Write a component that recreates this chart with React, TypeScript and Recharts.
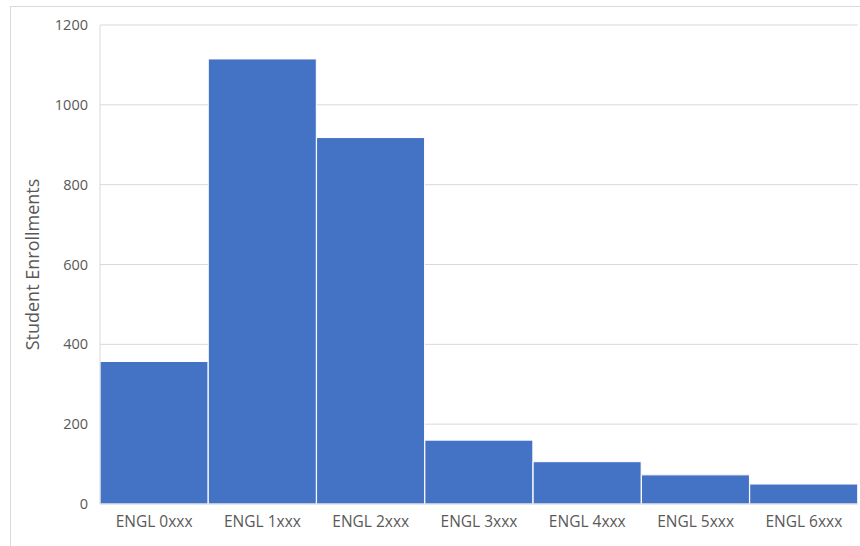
import { BarChart, Bar, XAxis, YAxis, CartesianGrid } from "recharts";

const categories = ["ENGL 0xxx", "ENGL 1xxx", "ENGL 2xxx", "ENGL 3xxx", "ENGL 4xxx", "ENGL 5xxx", "ENGL 6xxx"];
const enrollments = [357, 1115, 918, 160, 106, 73, 50];
const yTicks = [0, 200, 400, 600, 800, 1000, 1200];

const data = categories.map((c, i) => ({ name: c, value: enrollments[i] }));

const font = "'Open Sans', sans-serif";

export default function App() {
  return (
    <div style={{ position: "absolute", left: 0, top: 0, width: 860, height: 546, overflow: "hidden", background: "#fff" }}>
      {/* outer chart frame */}
      <div
        style={{
          position: "absolute",
          left: 10,
          top: 6,
          width: 900,
          height: 600,
          border: "1px solid #d9d9d9",
        }}
      />
      <div style={{ position: "absolute", left: 0, top: 0 }}>
        <BarChart
          width={860}
          height={546}
          data={data}
          margin={{ top: 25, right: 2, left: 40, bottom: 12 }}
          barCategoryGap={0}
        >
          <CartesianGrid vertical={false} stroke="#d9d9d9" />
          <XAxis
            dataKey="name"
            height={30}
            tickLine={false}
            axisLine={{ stroke: "#d9d9d9" }}
            tick={{ fontSize: 15.5, fill: "#595959", fontFamily: font }}
            tickMargin={6}
            interval={0}
          />
          <YAxis
            width={60}
            domain={[0, 1200]}
            ticks={yTicks}
            tickLine={false}
            axisLine={{ stroke: "#d9d9d9" }}
            tick={{ fontSize: 14.5, fill: "#595959", fontFamily: font }}
            tickMargin={6}
            label={{
              value: "Student Enrollments",
              angle: -90,
              position: "center",
              dx: -37,
              style: { fontSize: 18, fill: "#595959", fontFamily: font },
            }}
          />
          <Bar dataKey="value" fill="#4472C4" stroke="#ffffff" strokeWidth={1} isAnimationActive={false} />
        </BarChart>
      </div>
    </div>
  );
}
